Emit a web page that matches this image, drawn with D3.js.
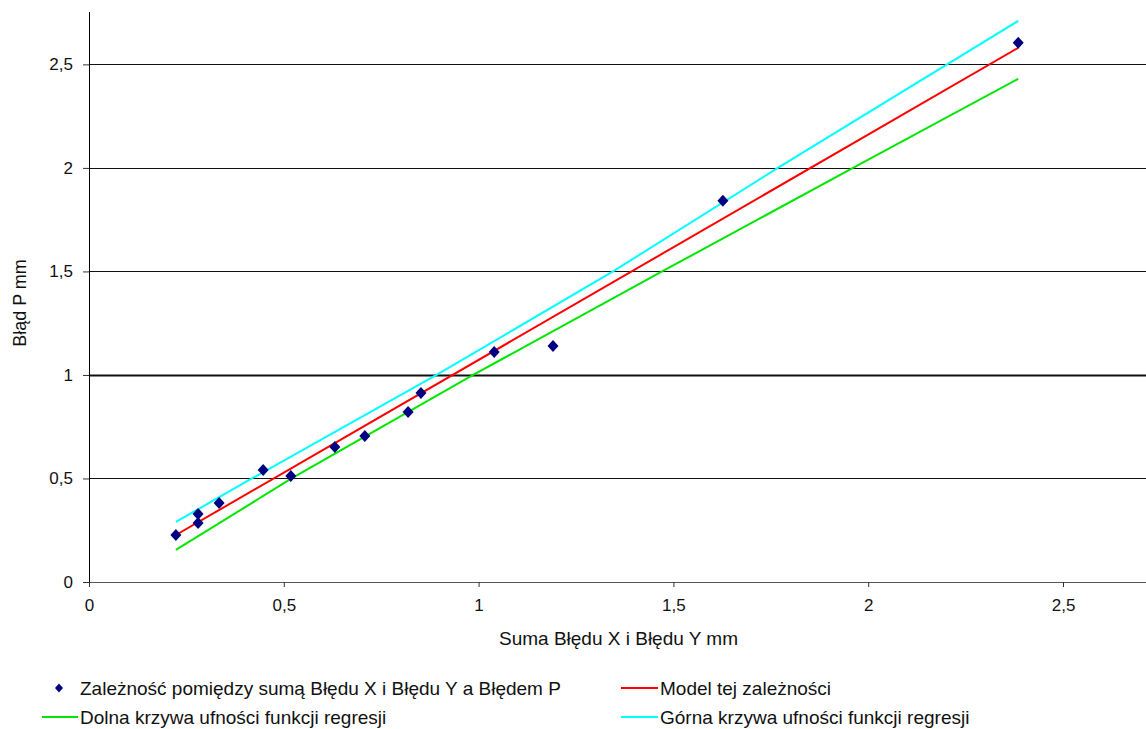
<!DOCTYPE html>
<html>
<head>
<meta charset="utf-8">
<script src="https://cdn.jsdelivr.net/npm/d3@7"></script>
<style>
  body { margin: 0; background: #fff; }
  svg text { font-family: "Liberation Sans", Arial, sans-serif; fill: #111; }
</style>
</head>
<body>
<div id="chart"></div>
<script>
// measured points
const pointsX = [0.223, 0.280, 0.280, 0.334, 0.447, 0.518, 0.631, 0.708, 0.819, 0.852, 1.040, 1.191, 1.627, 2.385];
const pointsY = [0.227, 0.329, 0.285, 0.382, 0.541, 0.512, 0.652, 0.705, 0.821, 0.913, 1.111, 1.140, 1.841, 2.604];

// regression model (straight line)
const modelX = [0.223, 2.385];
const modelY = [0.227, 2.58];

// confidence bands
const lowerX = [0.223, 0.520, 0.986, 1.471, 1.961, 2.385];
const lowerY = [0.155, 0.5, 1.0, 1.5, 2.0, 2.43];
const upperX = [0.223, 0.418, 0.892, 1.345, 1.768, 2.385];
const upperY = [0.29, 0.5, 1.0, 1.5, 2.0, 2.71];

const ticks = [0, 0.5, 1, 1.5, 2, 2.5];

const legendLabels = [
    "Zależność pomiędzy sumą Błędu X i Błędu Y a Błędem P",
    "Model tej zależności",
    "Dolna krzywa ufności funkcji regresji",
    "Górna krzywa ufności funkcji regresji"
];

const W = 1146, H = 729;
const MARGINS = {top: 12, right: 0, left: 89, bottom: 147};
const WIDTH = W - MARGINS.left - MARGINS.right;
const HEIGHT = H - MARGINS.top - MARGINS.bottom;

const svg = d3.select("#chart")
    .append("svg")
        .attr("width", W)
        .attr("height", H)
    .append("g")
        .attr("transform", `translate(${MARGINS.left}, ${MARGINS.top})`);

const x = d3.scaleLinear()
    .domain([0, 2.713])
    .range([0, WIDTH]);

const y = d3.scaleLinear()
    .domain([0, 2.753])
    .range([HEIGHT, 0]);

const fmt = d => d3.format("")(d).replace(".", ",");

// gridlines
svg.append("g")
    .selectAll("line")
    .data(ticks.filter(t => t > 0))
    .enter().append("line")
        .attr("x1", 0)
        .attr("x2", WIDTH)
        .attr("y1", d => Math.round(y(d)) + 0.5)
        .attr("y2", d => Math.round(y(d)) + 0.5)
        .attr("stroke", "#111")
        .attr("stroke-width", d => d === 1 ? 2 : 1);

const xAxisCall = d3.axisBottom(x)
    .tickValues(ticks)
    .tickSize(5)
    .tickPadding(12)
    .tickFormat(fmt);

const xAxis = svg.append("g")
    .attr("transform", `translate(0, ${HEIGHT})`)
    .call(xAxisCall);
xAxis.select(".domain").attr("stroke", "#555").attr("d", `M0.5,0.5H${WIDTH}`);
xAxis.selectAll(".tick line").attr("stroke", "#333");
xAxis.selectAll("text").attr("font-size", 17).attr("font-family", "Liberation Sans, Arial, sans-serif").attr("fill", "#111");

const yAxisCall = d3.axisLeft(y)
    .tickValues(ticks)
    .tickSize(6)
    .tickPadding(10)
    .tickFormat(fmt);

const yAxis = svg.append("g").call(yAxisCall);
yAxis.select(".domain").attr("stroke", "#000").attr("d", `M0.5,${HEIGHT}V0`);
yAxis.selectAll(".tick line").attr("stroke", "#333");
yAxis.selectAll("text").attr("font-size", 17).attr("font-family", "Liberation Sans, Arial, sans-serif").attr("fill", "#111");

// axis titles
svg.append("text")
    .attr("x", (W - MARGINS.left) / 2 + 1)
    .attr("y", HEIGHT + 63)
    .attr("text-anchor", "middle")
    .attr("font-size", 19)
    .text("Suma Błędu X i Błędu Y mm");

svg.append("text")
    .attr("x", -(HEIGHT / 2) - 6)
    .attr("y", -63)
    .attr("text-anchor", "middle")
    .attr("font-size", 18)
    .attr("transform", "rotate(-90)")
    .text("Błąd P mm");

// lines
const line = d3.line()
    .x(d => x(d[0]))
    .y(d => y(d[1]));

const series = [
    {xs: upperX, ys: upperY, color: "#00ffff"},
    {xs: lowerX, ys: lowerY, color: "#00e600"},
    {xs: modelX, ys: modelY, color: "#ff0000"}
];

series.forEach(s => {
    svg.append("path")
        .datum(s.xs.map((v, i) => [v, s.ys[i]]))
        .attr("fill", "none")
        .attr("stroke", s.color)
        .attr("stroke-width", 2)
        .attr("d", line);
});

// points (diamond markers)
const diamondPath = (w, h) => `M0,${-h}L${w},0L0,${h}L${-w},0Z`;

svg.selectAll(".pt")
    .data(pointsX.map((v, i) => [v, pointsY[i]]))
    .enter().append("path")
        .attr("class", "pt")
        .attr("transform", d => `translate(${x(d[0])}, ${y(d[1])})`)
        .attr("d", diamondPath(5.5, 6))
        .attr("fill", "#000080");

// legend
const legend = d3.select("svg").append("g");

const legendItems = [
    {label: legendLabels[0], type: "point", color: "#000080", lx: 52, ly: 688, tx: 80},
    {label: legendLabels[1], type: "line", color: "#ff0000", lx: 621, ly: 688, tx: 660},
    {label: legendLabels[2], type: "line", color: "#00e600", lx: 42, ly: 717, tx: 80},
    {label: legendLabels[3], type: "line", color: "#00ffff", lx: 621, ly: 717, tx: 660}
];

legendItems.forEach(item => {
    if (item.type === "point") {
        legend.append("path")
            .attr("transform", `translate(${item.lx + 7}, ${item.ly})`)
            .attr("d", diamondPath(4, 4.5))
            .attr("fill", item.color);
    } else {
        legend.append("line")
            .attr("x1", item.lx)
            .attr("x2", item.tx - 2)
            .attr("y1", item.ly)
            .attr("y2", item.ly)
            .attr("stroke", item.color)
            .attr("stroke-width", 2);
    }
    legend.append("text")
        .attr("x", item.tx)
        .attr("y", item.ly + 7)
        .attr("font-size", 19)
        .text(item.label);
});
</script>
</body>
</html>
